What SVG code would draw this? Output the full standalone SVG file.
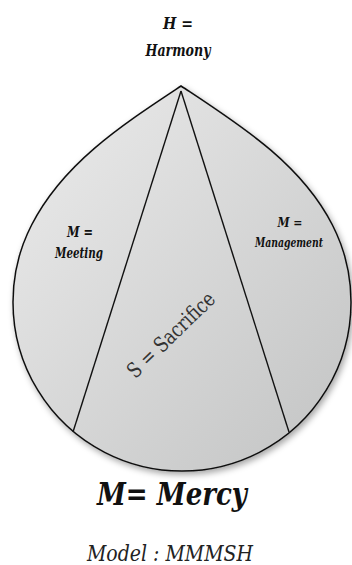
<svg xmlns="http://www.w3.org/2000/svg" width="352" height="565" viewBox="0 0 352 565">
  <defs>
    <linearGradient id="fillGrad" x1="0" y1="0" x2="1" y2="1">
      <stop offset="0" stop-color="#ececec"/>
      <stop offset="1" stop-color="#c2c3c3"/>
    </linearGradient>
    <filter id="shadow" x="-10%" y="-10%" width="125%" height="125%">
      <feDropShadow dx="2" dy="3" stdDeviation="3" flood-color="#000" flood-opacity="0.35"/>
    </filter>
  </defs>
  <style>
    text { font-family: "DejaVu Serif", serif; text-anchor: middle; }
    .script { font-style: italic; font-weight: bold; fill: #111; }
    .plain { fill: #333; }
    .divider { stroke: #111; stroke-width: 1.4; fill: none; }
  </style>

  <g id="drop">
    <path d="M181,86 C122.9,124.5 63.5,162.7 31.6,225 A169,169 0 1 0 332.4,225 C300.5,162.7 239.1,124.5 181,86 Z" fill="url(#fillGrad)" stroke="#111" stroke-width="1.5" filter="url(#shadow)"/>
  </g>

  <g id="connectors">
    <line class="divider" x1="181" y1="91" x2="73" y2="432"/>
    <line class="divider" x1="181" y1="91" x2="289" y2="432"/>
  </g>

  <g id="harmony">
    <text class="script" x="178" y="29" font-size="17" textLength="30" lengthAdjust="spacingAndGlyphs">H =</text>
    <text class="script" x="178" y="56" font-size="17" textLength="65" lengthAdjust="spacingAndGlyphs">Harmony</text>
  </g>

  <g id="meeting">
    <text class="script" x="80" y="237" font-size="14" textLength="26" lengthAdjust="spacingAndGlyphs">M =</text>
    <text class="script" x="79" y="258" font-size="14" textLength="48" lengthAdjust="spacingAndGlyphs">Meeting</text>
  </g>

  <g id="management">
    <text class="script" x="290" y="227" font-size="13" textLength="25" lengthAdjust="spacingAndGlyphs">M =</text>
    <text class="script" x="289" y="247" font-size="13" textLength="68" lengthAdjust="spacingAndGlyphs">Management</text>
  </g>

  <g id="sacrifice">
    <text class="plain" x="0" y="0" font-size="21" textLength="113" lengthAdjust="spacingAndGlyphs" transform="translate(176,340) rotate(-44)">S = Sacrifice</text>
  </g>

  <g id="mercy">
    <text class="script" x="172" y="505" font-size="32" textLength="150" lengthAdjust="spacingAndGlyphs">M= Mercy</text>
  </g>

  <g id="model">
    <text x="170" y="561" font-size="22" font-style="italic" fill="#222" textLength="166" lengthAdjust="spacingAndGlyphs">Model : MMMSH</text>
  </g>
</svg>
